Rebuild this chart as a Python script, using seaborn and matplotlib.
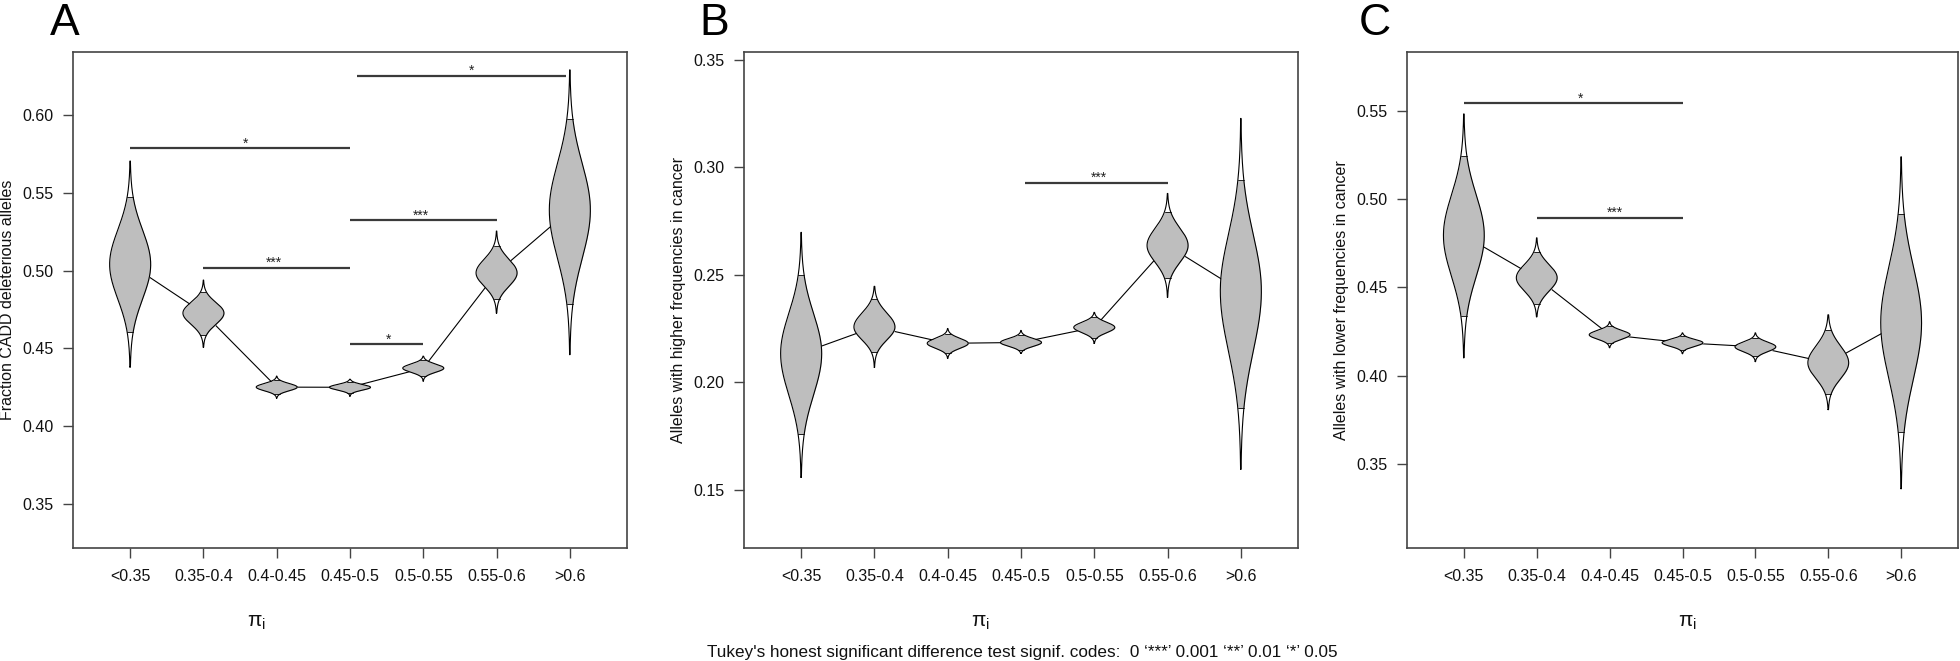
import numpy as np
import matplotlib
matplotlib.use('Agg')
import matplotlib.pyplot as plt
import seaborn as sns

# ---- data ----
categories = ['<0.35', '0.35-0.4', '0.4-0.45', '0.45-0.5', '0.5-0.55', '0.55-0.6', '>0.6']

# panel A: fraction CADD deleterious alleles
a_mid = [0.5040, 0.4727, 0.4251, 0.4250, 0.4373, 0.4985, 0.5389]
a_q_lo = [0.4605, 0.4585, 0.4205, 0.4214, 0.4321, 0.4817, 0.4784]
a_q_hi = [0.5473, 0.4862, 0.4297, 0.4286, 0.4425, 0.5158, 0.5974]
a_tip_lo = [0.4380, 0.4508, 0.4180, 0.4193, 0.4290, 0.4727, 0.4460]
a_tip_hi = [0.5704, 0.4939, 0.4322, 0.4302, 0.4450, 0.5254, 0.6290]

# panel B: alleles with higher frequencies in cancer
b_mid = [0.2135, 0.2258, 0.2182, 0.2186, 0.2256, 0.2637, 0.2425]
b_q_lo = [0.1758, 0.2140, 0.2137, 0.2151, 0.2208, 0.2484, 0.1879]
b_q_hi = [0.2498, 0.2386, 0.2227, 0.2222, 0.2303, 0.2795, 0.2940]
b_tip_lo = [0.1559, 0.2070, 0.2112, 0.2135, 0.2182, 0.2396, 0.1596]
b_tip_hi = [0.2698, 0.2447, 0.2251, 0.2242, 0.2326, 0.2879, 0.3228]

# panel C: alleles with lower frequencies in cancer
c_mid = [0.4795, 0.4555, 0.4232, 0.4187, 0.4164, 0.4073, 0.4300]
c_q_lo = [0.4340, 0.4407, 0.4184, 0.4147, 0.4110, 0.3898, 0.3683]
c_q_hi = [0.5245, 0.4702, 0.4280, 0.4224, 0.4216, 0.4260, 0.4917]
c_tip_lo = [0.4102, 0.4334, 0.4159, 0.4125, 0.4080, 0.3808, 0.3360]
c_tip_hi = [0.5483, 0.4781, 0.4306, 0.4243, 0.4243, 0.4345, 0.5240]

# Tukey HSD brackets: (from, to, y, label, label x)
a_sig = [(0, 3, 0.5788, '*', 1.57), (1, 3, 0.5017, '***', 1.96), (3, 5, 0.5325, '***', 3.97),
         (3.1, 5.95, 0.6251, '*', 4.66), (3, 4, 0.4528, '*', 3.53)]
b_sig = [(3.05, 5, 0.2930, '***', 4.06)]
c_sig = [(0, 3, 0.5545, '*', 1.6), (1, 3, 0.4894, '***', 2.07)]

a_yticks = [0.35, 0.40, 0.45, 0.50, 0.55, 0.60]
b_yticks = [0.15, 0.20, 0.25, 0.30, 0.35]
c_yticks = [0.35, 0.40, 0.45, 0.50, 0.55]

# ---- style ----
sns.set_style('white')
plt.rcParams['font.family'] = ['Liberation Sans', 'DejaVu Sans']
plt.rcParams['mathtext.fontset'] = 'custom'
plt.rcParams['mathtext.rm'] = 'Liberation Sans'
plt.rcParams['mathtext.it'] = 'Liberation Sans:italic'

FRAME = '#444444'
GREY = '#bebebe'
W, H = 1960, 661

fig = plt.figure(figsize=(19.6, 6.61), dpi=100)


def add_panel(left, right, top=52, bottom=548):
    return fig.add_axes([left / W, (H - bottom) / H, (right - left) / W, (bottom - top) / H])


def draw_violin(ax, x, tip_lo, q_lo, mid, q_hi, tip_hi, half=0.28):
    y = np.unique(np.r_[np.linspace(tip_lo, tip_hi, 400), q_lo, q_hi])
    s_lo = (mid - q_lo) / 1.96
    s_hi = (q_hi - mid) / 1.96
    z = np.where(y < mid, (y - mid) / s_lo, (y - mid) / s_hi)
    w = half * np.exp(-0.5 * z ** 2)
    ax.fill_betweenx(y, x - w, x + w, color='white', lw=0, zorder=2)
    inner = (y >= q_lo) & (y <= q_hi)
    ax.fill_betweenx(y[inner], x - w[inner], x + w[inner], color=GREY, lw=0, zorder=3)
    ax.plot(np.r_[x - w, (x + w)[::-1], x - w[0]], np.r_[y, y[::-1], y[0]],
            color='black', lw=0.8, zorder=4)
    wq = half * np.exp(-0.5 * 1.96 ** 2)
    for q in (q_lo, q_hi):
        ax.plot([x - wq, x + wq], [q, q], color='black', lw=0.6, zorder=4)


def panel(ax, mid, q_lo, q_hi, tip_lo, tip_hi, sig, yticks, ylim, ylabel, ylabel_x):
    pos = np.arange(len(categories))
    sns.lineplot(x=pos, y=mid, ax=ax, color='black', linewidth=0.8, zorder=1)
    for i in pos:
        draw_violin(ax, i, tip_lo[i], q_lo[i], mid[i], q_hi[i], tip_hi[i])
    for x0, x1, y, lab, lx in sig:
        ax.plot([x0, x1], [y, y], color='#3a3a3a', lw=1.6, zorder=5, solid_capstyle='butt')
        ax.annotate(lab, (lx, y), xytext=(0, 0.5), textcoords='offset points',
                    ha='center', va='baseline', fontsize=10, color='#222222')
    ax.set_xlim(-0.78, 6.78)
    ax.set_ylim(*ylim)
    ax.set_xticks(pos)
    ax.set_xticklabels(categories)
    ax.set_yticks(yticks)
    ax.set_yticklabels(['%.2f' % t for t in yticks])
    ax.tick_params(axis='both', which='major', bottom=True, left=True, direction='out',
                   length=7.2, width=1.0, color=FRAME, labelcolor='#111111', labelsize=11.5)
    ax.tick_params(axis='y', pad=7)
    ax.tick_params(axis='x', pad=8)
    for sp in ax.spines.values():
        sp.set_visible(True)
        sp.set_color(FRAME)
        sp.set_linewidth(1.2)
    ax.set_xlabel('')
    ax.set_ylabel(ylabel, fontsize=11.5, color='#111111')
    ax.yaxis.set_label_coords(ylabel_x, 0.5)


ax_a = add_panel(73, 627)
panel(ax_a, a_mid, a_q_lo, a_q_hi, a_tip_lo, a_tip_hi, a_sig, a_yticks, (0.3217, 0.6405),
      'Fraction CADD deleterious alleles', -0.1047)
ax_b = add_panel(744, 1298)
panel(ax_b, b_mid, b_q_lo, b_q_hi, b_tip_lo, b_tip_hi, b_sig, b_yticks, (0.1230, 0.3537),
      'Alleles with higher frequencies in cancer', -0.104)
ax_c = add_panel(1407, 1958)
panel(ax_c, c_mid, c_q_lo, c_q_hi, c_tip_lo, c_tip_hi, c_sig, c_yticks, (0.3024, 0.5834),
      'Alleles with lower frequencies in cancer', -0.106)

# x axis titles (pi_i) sit at different spots under each panel
for x_px in (256, 980, 1687):
    fig.text(x_px / W, (H - 622) / H, r'$\mathrm{\pi_i}$', ha='center', va='center',
             fontsize=15, color='#111111')

# panel letters
for x_px, lab in ((50, 'A'), (699, 'B'), (1359, 'C')):
    fig.text(x_px / W, (H - 35) / H, lab, ha='left', va='baseline', fontsize=32, color='black')

fig.text(707 / W, (H - 652) / H,
         "Tukey's honest significant difference test signif. codes:  0 \u2018***\u2019 0.001 "
         "\u2018**\u2019 0.01 \u2018*\u2019 0.05",
         ha='left', va='center', fontsize=12.3, color='#111111')

fig.savefig('out.png', dpi=100)
